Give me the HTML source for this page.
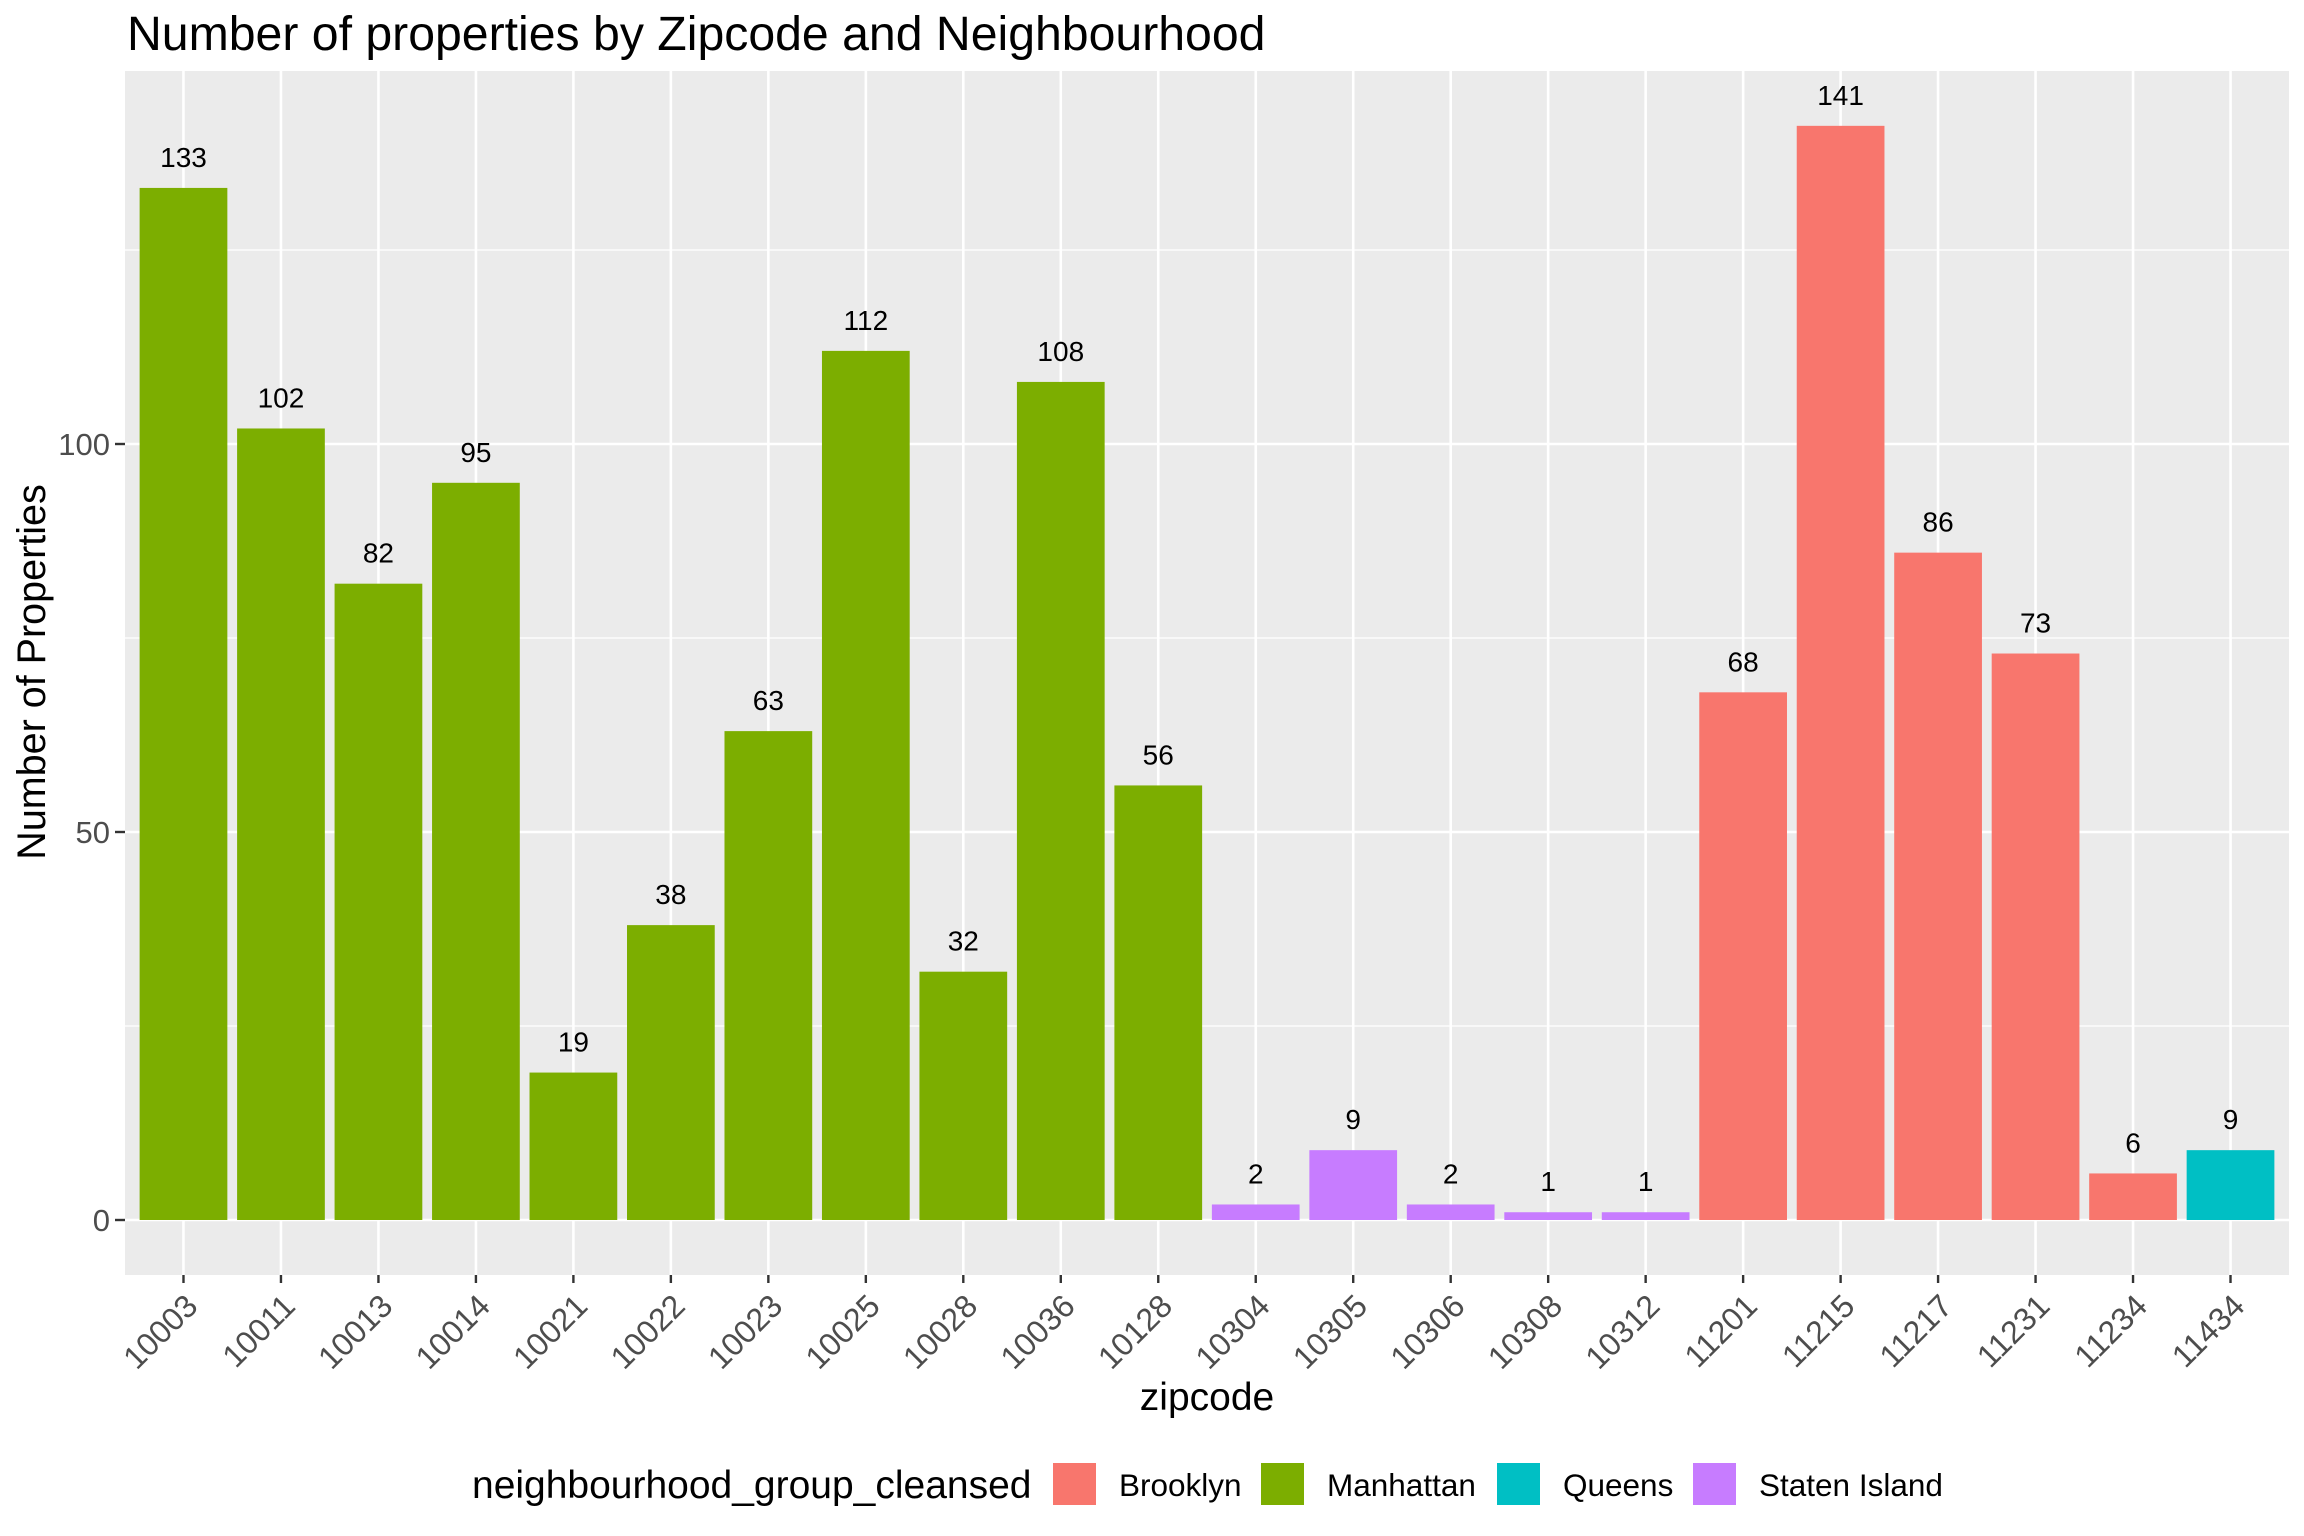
<!DOCTYPE html>
<html><head><meta charset="utf-8"><style>
html,body{margin:0;padding:0;background:#fff}
svg{display:block;font-family:"Liberation Sans",Arial,sans-serif}
</style></head><body>
<svg id="chart" width="2304" height="1536" viewBox="0 0 2304 1536" xmlns="http://www.w3.org/2000/svg">
<rect x="0" y="0" width="2304" height="1536" fill="#fff"/>
<text x="127" y="50" font-size="48.2" fill="#000">Number of properties by Zipcode and Neighbourhood</text>
<rect x="125" y="71" width="2164" height="1204" fill="#EBEBEB"/>
<g id="grid"></g>
<g id="bars"></g>
<g id="labels"></g>
<g id="yaxis"></g>
<g id="xaxis"></g>
<text transform="translate(45,672) rotate(-90)" text-anchor="middle" font-size="39.5" fill="#000">Number of Properties</text>
<text x="1207" y="1410" text-anchor="middle" font-size="39" fill="#000">zipcode</text>
<g id="legend">
<text x="472" y="1498" font-size="39" fill="#000">neighbourhood_group_cleansed</text>
</g>
</svg>
<script>
const zipcodes = ["10003","10011","10013","10014","10021","10022","10023","10025","10028","10036","10128","10304","10305","10306","10308","10312","11201","11215","11217","11231","11234","11434"];
const counts = [133,102,82,95,19,38,63,112,32,108,56,2,9,2,1,1,68,141,86,73,6,9];
const groups = ["Manhattan","Manhattan","Manhattan","Manhattan","Manhattan","Manhattan","Manhattan","Manhattan","Manhattan","Manhattan","Manhattan","Staten Island","Staten Island","Staten Island","Staten Island","Staten Island","Brooklyn","Brooklyn","Brooklyn","Brooklyn","Brooklyn","Queens"];
const legendGroups = ["Brooklyn","Manhattan","Queens","Staten Island"];
const groupColors = ["#F8766D","#7CAE00","#00BFC4","#C77CFF"];
const yTicks = [0,50,100];
const yMinor = [25,75,125];

const NS = "http://www.w3.org/2000/svg";
const PL = 125, PR = 2289, PT = 71, PB = 1275;
const Y0 = 1220, PXU = 7.76;
const step = (PR - PL) / (zipcodes.length - 1 + 1.2);
function xs(i){ return PL + (0.6 + i) * step; }
function ys(v){ return Y0 - v * PXU; }
function mk(tag, attrs, parent){
  const e = document.createElementNS(NS, tag);
  for (const k in attrs) e.setAttribute(k, attrs[k]);
  parent.appendChild(e);
  return e;
}
const grid = document.getElementById('grid');
yMinor.forEach(v=>{
  const l = mk('line',{x1:PL,x2:PR,y1:ys(v),y2:ys(v),stroke:'#fff','stroke-width':1.3},grid);
  
  
});
yTicks.forEach(v=>{
  const l = mk('line',{x1:PL,x2:PR,y1:ys(v),y2:ys(v),stroke:'#fff','stroke-width':2.6},grid);
  
  
});
zipcodes.forEach((z,i)=>{
  const l = mk('line',{x1:xs(i),x2:xs(i),y1:PT,y2:PB,stroke:'#fff','stroke-width':2.6},grid);
  
  
});
const bars = document.getElementById('bars');
const labels = document.getElementById('labels');
const bw = step * 0.9;
counts.forEach((v,i)=>{
  const col = groupColors[legendGroups.indexOf(groups[i])];
  const r = mk('rect',{x:xs(i)-bw/2,y:ys(v),width:bw,height:v*PXU,fill:col},bars);
  
  
  const t = mk('text',{x:xs(i),y:ys(v)-21,'text-anchor':'middle','font-size':28,fill:'#000'},labels);
  t.textContent = String(v);
  
  
});
const yaxis = document.getElementById('yaxis');
yTicks.forEach(v=>{
  const tk = mk('line',{x1:115,x2:125,y1:ys(v),y2:ys(v),stroke:'#333','stroke-width':2.4},yaxis);
  
  
  const t = mk('text',{x:110,y:ys(v)+11,'text-anchor':'end','font-size':31,fill:'#4D4D4D'},yaxis);
  t.textContent = String(v);
  
  
});
const xaxis = document.getElementById('xaxis');
zipcodes.forEach((z,i)=>{
  const tk = mk('line',{x1:xs(i),x2:xs(i),y1:PB,y2:PB+8,stroke:'#333','stroke-width':2.4},xaxis);
  
  
  const ax = xs(i)+16, ay = PB+33;
  const t = mk('text',{x:ax,y:ay,'text-anchor':'end','font-size':32,fill:'#4D4D4D',transform:`rotate(-45 ${ax} ${ay})`},xaxis);
  t.textContent = z;
  
  
});
const legend = document.getElementById('legend');
const keyX = [1053,1261,1497,1693];
legendGroups.forEach((g,i)=>{
  const r = mk('rect',{x:keyX[i],y:1463,width:43,height:42,fill:groupColors[i]},legend);
  
  
  const t = mk('text',{x:keyX[i]+66,y:1496,'font-size':31.5,fill:'#000'},legend);
  t.textContent = g;
  
  
});
</script>
</body></html>
